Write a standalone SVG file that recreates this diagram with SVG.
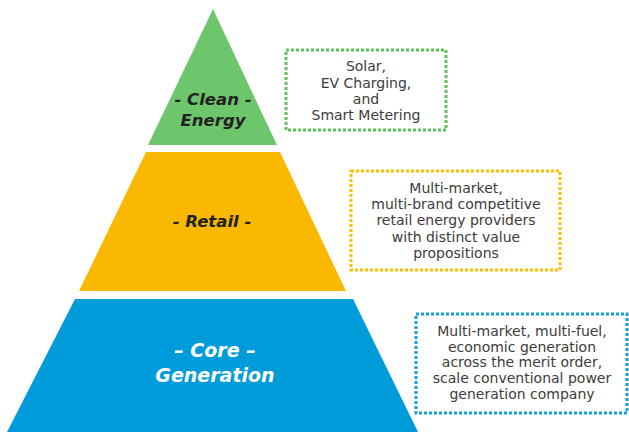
<svg xmlns="http://www.w3.org/2000/svg" width="629" height="433" viewBox="0 0 629 433">
<style>
.tier{font-family:"DejaVu Sans",Verdana,sans-serif;font-weight:bold;font-style:italic;text-anchor:middle}
.dark{fill:#222222;font-size:16.5px}
.light{fill:#ffffff;font-size:19px}
.note{font-family:"DejaVu Sans",Verdana,sans-serif;font-size:14px;fill:#3c3c3c;text-anchor:middle}
.box{fill:none;stroke-width:3;stroke-dasharray:3 2}
</style>
<rect width="629" height="433" fill="#ffffff"/>
<g id="clean-energy">
<polygon points="213,9 277,145 148,145" fill="#6dc66b"/>
<text class="tier dark" x="213" y="105">- Clean -</text>
<text class="tier dark" x="213" y="126">Energy</text>
</g>
<g id="retail">
<polygon points="146,152 280,152 346,291 79,291" fill="#fbb800"/>
<text class="tier dark" x="212" y="227">- Retail -</text>
</g>
<g id="core-generation">
<polygon points="75,299 353,299 418,432 7,432" fill="#009cd9"/>
<text class="tier light" x="215" y="357">– Core –</text>
<text class="tier light" x="215" y="382">Generation</text>
</g>
<g id="note-clean">
<rect class="box" x="286" y="50" width="160" height="80" stroke="#5dc25b"/>
<text class="note" x="366" y="71">Solar,</text>
<text class="note" x="366" y="88">EV Charging,</text>
<text class="note" x="366" y="104">and</text>
<text class="note" x="366" y="120">Smart Metering</text>
</g>
<g id="note-retail">
<rect class="box" x="351" y="171" width="209" height="99" stroke="#fbc000"/>
<text class="note" x="456" y="193">Multi-market,</text>
<text class="note" x="456" y="209">multi-brand competitive</text>
<text class="note" x="456" y="225">retail energy providers</text>
<text class="note" x="456" y="242">with distinct value</text>
<text class="note" x="456" y="258">propositions</text>
</g>
<g id="note-core">
<rect class="box" x="416" y="314" width="211" height="99" stroke="#149fdd"/>
<text class="note" x="522" y="336">Multi-market, multi-fuel,</text>
<text class="note" x="522" y="352">economic generation</text>
<text class="note" x="522" y="367">across the merit order,</text>
<text class="note" x="522" y="383">scale conventional power</text>
<text class="note" x="522" y="399">generation company</text>
</g>
<g id="connectors"></g>
</svg>
